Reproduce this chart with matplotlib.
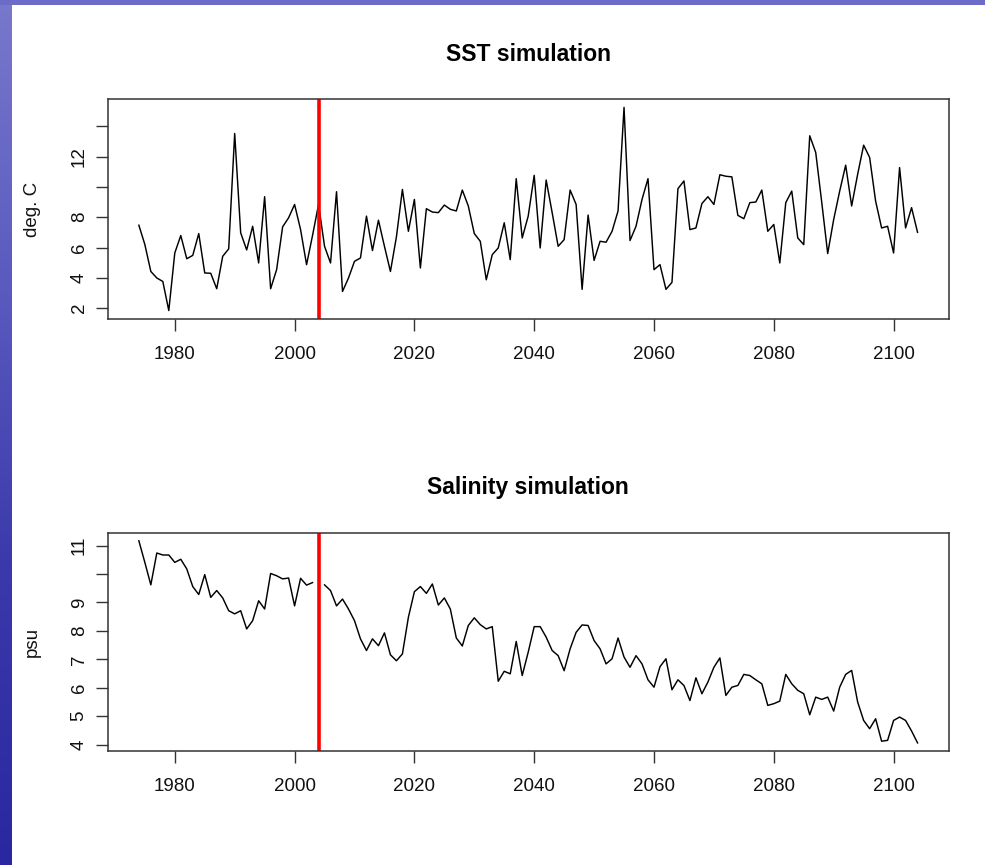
import numpy as np
import matplotlib
matplotlib.use("Agg")
import matplotlib.pyplot as plt
from matplotlib.colors import LinearSegmentedColormap

plt.rcParams['font.family'] = ['Liberation Sans', 'DejaVu Sans']

years = list(range(1974, 2105))

sst = [7.47, 6.20, 4.42, 3.99, 3.76, 1.84, 5.64, 6.79, 5.26, 5.48,
       6.92, 4.32, 4.30, 3.28, 5.42, 5.91, 13.52, 6.97, 5.84, 7.40,
       4.98, 9.35, 3.28, 4.54, 7.36, 7.96, 8.84, 7.18, 4.87, 6.80,
       8.84, 6.08, 4.98, 9.68, 3.10, 3.99, 5.09, 5.31, 8.07, 5.80,
       7.80, 6.08, 4.42, 6.70, 9.83, 7.07, 9.17, 4.65, 8.56, 8.34,
       8.30, 8.80, 8.52, 8.41, 9.79, 8.74, 6.92, 6.41, 3.87, 5.53,
       5.97, 7.63, 5.20, 10.54, 6.63, 8.07, 10.76, 5.97, 10.45, 8.30,
       6.08, 6.52, 9.79, 8.84, 3.24, 8.14, 5.15, 6.41, 6.35, 7.07,
       8.41, 15.24, 6.46, 7.40, 9.17, 10.54, 4.54, 4.87, 3.24, 3.70,
       9.88, 10.39, 7.18, 7.29, 8.90, 9.35, 8.84, 10.80, 10.70, 10.66,
       8.12, 7.90, 8.96, 9.00, 9.79, 7.07, 7.52, 4.98, 8.96, 9.72,
       6.63, 6.19, 13.37, 12.27, 9.00, 5.60, 7.85, 9.72, 11.43, 8.74,
       10.83, 12.75, 11.94, 9.06, 7.29, 7.40, 5.64, 11.27, 7.29, 8.63,
       7.00]

salinity = [11.17, 10.41, 9.62, 10.74, 10.67, 10.67, 10.41, 10.52, 10.18, 9.56,
            9.28, 9.98, 9.18, 9.42, 9.16, 8.71, 8.60, 8.71, 8.07, 8.36,
            9.06, 8.77, 10.02, 9.94, 9.83, 9.86, 8.88, 9.85, 9.61, 9.70,
            np.nan, 9.62, 9.42, 8.88, 9.12, 8.77, 8.36, 7.72, 7.31, 7.72,
            7.48, 7.93, 7.16, 6.95, 7.19, 8.48, 9.38, 9.56, 9.32, 9.65,
            8.91, 9.16, 8.77, 7.75, 7.47, 8.19, 8.46, 8.22, 8.07, 8.15,
            6.23, 6.58, 6.49, 7.63, 6.43, 7.25, 8.15, 8.15, 7.78, 7.31,
            7.13, 6.60, 7.37, 7.95, 8.21, 8.19, 7.66, 7.37, 6.84, 7.02,
            7.75, 7.08, 6.72, 7.13, 6.84, 6.28, 6.02, 6.74, 7.02, 5.93,
            6.28, 6.08, 5.55, 6.35, 5.79, 6.20, 6.72, 7.05, 5.73, 6.02,
            6.08, 6.47, 6.43, 6.28, 6.14, 5.38, 5.44, 5.53, 6.47, 6.14,
            5.91, 5.79, 5.05, 5.67, 5.59, 5.67, 5.18, 6.02, 6.47, 6.61,
            5.50, 4.85, 4.56, 4.91, 4.12, 4.15, 4.85, 4.97, 4.85, 4.48,
            4.06]

cut_year = 2004
x_ticks = [1980, 2000, 2020, 2040, 2060, 2080, 2100]
sst_ticks = [2, 4, 6, 8, 10, 12, 14]
sst_ticklabels = ['2', '4', '6', '8', '', '12', '']
sal_ticks = [4, 5, 6, 7, 8, 9, 10, 11]
sal_ticklabels = ['4', '5', '6', '7', '8', '9', '', '11']

W, H = 985, 865
fig = plt.figure(figsize=(W / 100, H / 100), dpi=100)
fig.patch.set_facecolor('white')

# slide background strips
cmap = LinearSegmentedColormap.from_list('slide', ['#7878cc', '#5a5abf', '#3a38aa', '#2a28a0'])
axl = fig.add_axes([0, 0, 12 / W, 1])
axl.imshow(np.linspace(0, 1, 256).reshape(-1, 1), aspect='auto', cmap=cmap)
axl.set_axis_off()
axt = fig.add_axes([0, 1 - 5 / H, 1, 5 / H])
axt.set_facecolor('#6c6cc8')
axt.set_xticks([]); axt.set_yticks([])
for s in axt.spines.values():
    s.set_visible(False)

edge = '#333333'
tick_fs = 13.5


def rlim(vals):
    v = np.asarray(vals, dtype=float)
    lo, hi = np.nanmin(v), np.nanmax(v)
    r = hi - lo
    return lo - 0.04 * r, hi + 0.04 * r


def style(ax, yticks, yticklabels, title, ylabel):
    ax.set_xlim(*rlim(years))
    ax.set_xticks(x_ticks)
    ax.set_xticklabels([str(t) for t in x_ticks])
    ax.set_yticks(yticks)
    ax.set_yticklabels(yticklabels, rotation=90, va='center')
    ax.tick_params(axis='both', direction='out', length=8.4, width=1.0,
                   color=edge, labelsize=tick_fs, labelcolor='#111111')
    ax.tick_params(axis='x', pad=11)
    ax.tick_params(axis='y', pad=6)
    for s in ax.spines.values():
        s.set_color(edge)
        s.set_linewidth(1.1)
    ax.text(0.5, 1.205, title, transform=ax.transAxes, ha='center', va='center',
            fontsize=16.5, fontweight='bold')
    ax.set_ylabel(ylabel, fontsize=tick_fs, va='center', color='#111111')
    ax.yaxis.set_label_coords(-0.0895, 0.5)


ax1 = fig.add_axes([107.7 / W, 1 - 318.7 / H, 841 / W, 219.4 / H])
ax1.plot(years, sst, color='black', lw=1.05)
ax1.axvline(cut_year, color='#ff0000', lw=2.6)
ax1.set_ylim(*rlim(sst))
style(ax1, sst_ticks, sst_ticklabels, 'SST simulation', 'deg. C')

ax2 = fig.add_axes([107.7 / W, 1 - 751 / H, 841 / W, 218.3 / H])
ax2.plot(years, salinity, color='black', lw=1.05)
ax2.axvline(cut_year, color='#ff0000', lw=2.6)
ax2.set_ylim(*rlim(salinity))
style(ax2, sal_ticks, sal_ticklabels, 'Salinity simulation', 'psu')

fig.savefig('out.png', dpi=100, facecolor=fig.get_facecolor())
